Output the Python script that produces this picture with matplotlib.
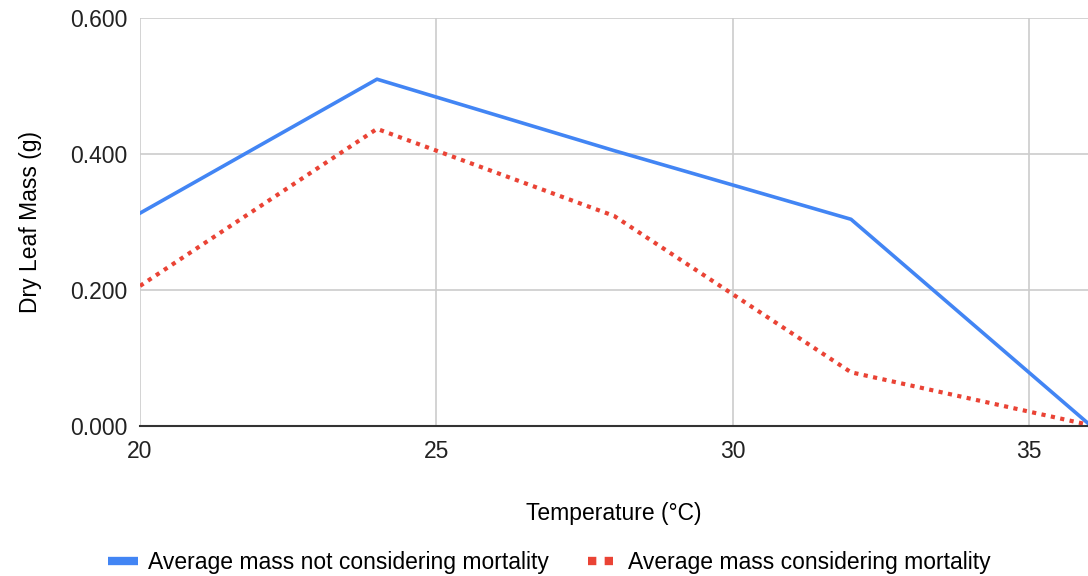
import matplotlib.pyplot as plt
from matplotlib.lines import Line2D

plt.rcParams['font.family'] = ['Liberation Sans', 'DejaVu Sans']

# data
temps = [20, 24, 28, 32, 36]
mass_no_mortality = [0.313, 0.510, 0.405, 0.304, 0.004]
mass_mortality = [0.206, 0.437, 0.309, 0.079, 0.002]
yticks = [0.0, 0.2, 0.4, 0.6]
xticks = [20, 25, 30, 35]

fig = plt.figure(figsize=(10.88, 5.76), dpi=100)
ax = fig.add_axes([140 / 1088, 1 - 426 / 576, 1 - 140 / 1088, (426 - 18) / 576])

blue = '#4285f4'
red = '#ea4335'
ax.plot(temps, mass_no_mortality, color=blue, lw=2.6, solid_joinstyle='round', zorder=3)
ax.plot(temps, mass_mortality, color=red, lw=3, linestyle=(0, (1, 1.3)), zorder=3)

ax.set_xlim(20, 36)
ax.set_ylim(0, 0.6)
ax.set_xticks(xticks)
ax.set_yticks(yticks)
ax.set_yticklabels(['%.3f' % v for v in yticks])
ax.grid(True, color='#cccccc', lw=1.2)
ax.set_axisbelow(True)
for s in ['top', 'right', 'left']:
    ax.spines[s].set_visible(False)
ax.spines['bottom'].set_color('#333333')
ax.spines['bottom'].set_linewidth(1.5)
ax.spines['bottom'].set_zorder(4)
ax.tick_params(length=0, labelsize=16.5, colors='#222222')
ax.tick_params(axis='x', pad=10)
ax.tick_params(axis='y', pad=9)

ax.set_xlabel('Temperature (°C)', fontsize=16.5, labelpad=28)
ax.set_ylabel('Dry Leaf Mass (g)', fontsize=16.5, labelpad=20)

handles = [
    Line2D([0], [0], color=blue, lw=6, solid_capstyle='butt'),
    Line2D([0], [0], color=red, lw=6, linestyle=(0, (1, 1))),
]
labels = ['Average mass not considering mortality', 'Average mass considering mortality']
fig.legend(handles, labels, loc='center', bbox_to_anchor=(0.505, 1 - 563 / 576),
           ncol=2, frameon=False, fontsize=16.5, handlelength=1.3, columnspacing=1.7,
           handletextpad=0.45)

plt.savefig('out.png', dpi=100)
